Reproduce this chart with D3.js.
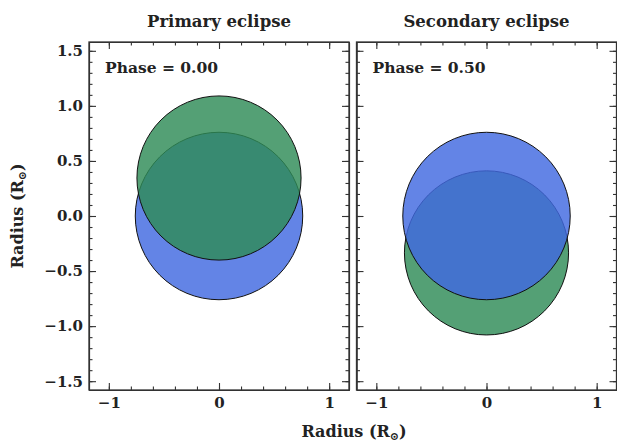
<!DOCTYPE html>
<html lang="en">
<head>
<meta charset="utf-8">
<title>Eclipse geometry</title>
<script src="https://cdn.jsdelivr.net/npm/d3@7"></script>
<style>
  body { margin: 0; background: #fff; }
  text { font-family: "DejaVu Serif", serif; font-weight: bold; fill: #222; }
  .axis path, .axis line { stroke: #333; stroke-width: 1.1; }
  .axis text { font-size: 15px; font-family: "DejaVu Serif", serif; font-weight: bold; fill: #222; }
</style>
</head>
<body>
<script>
// panels and values
var titles = ["Primary eclipse", "Secondary eclipse"];
var phases = [0.00, 0.50];
var blueY = [0, 0];           // primary star centre (R_sun)
var greenY = [0.345, -0.335]; // secondary star centre (R_sun)
var blueR = [0.76, 0.76];
var greenR = [0.745, 0.745];
var xTicks = [-1, 0, 1];
var yTicks = [-1.5, -1.0, -0.5, 0.0, 0.5, 1.0, 1.5];
var xDomain = [-1.18, 1.18];
var yDomain = [-1.58, 1.58];

var w = 617, h = 444;
var panelLeft = [89, 356.5];
var panelW = 260;
var plotTop = 42, plotBottom = 390;

var svg = d3.select("body").append("svg")
  .attr("width", w).attr("height", h);

var yScale = d3.scaleLinear().domain(yDomain).range([plotBottom, plotTop]);

function minorRange(a, b, step) {
  var out = [];
  for (var v = Math.ceil(a / step); v * step <= b; v++) out.push(+(v * step).toFixed(3));
  return out;
}
var xMinor = minorRange(xDomain[0], xDomain[1], 0.2);
var yMinor = minorRange(yDomain[0], yDomain[1], 0.1);

titles.forEach(function(title, i) {
  var x0 = panelLeft[i];
  var xScale = d3.scaleLinear().domain(xDomain).range([x0, x0 + panelW]);
  var g = svg.append("g");

  g.append("defs").append("clipPath").attr("id", "clip" + i)
    .append("rect").attr("x", x0).attr("y", plotTop).attr("width", panelW).attr("height", plotBottom - plotTop);

  var stars = [
    {y: blueY[i], r: blueR[i], c: "#4169e1"},
    {y: greenY[i], r: greenR[i], c: "#2e8b57"}
  ];
  // primary eclipse: green in front; secondary: blue in front
  if (i === 1) stars.reverse();

  g.append("g").attr("clip-path", "url(#clip" + i + ")")
    .selectAll("circle")
    .data(stars)
    .enter()
    .append("circle")
    .attr("cx", xScale(0))
    .attr("cy", function(d) { return yScale(d.y); })
    .attr("r", function(d) { return xScale(d.r) - xScale(0); })
    .attr("fill", function(d) { return d.c; })
    .attr("fill-opacity", 0.82)
    .attr("stroke", "#111")
    .attr("stroke-width", 1);

  // major axes, ticks pointing in
  g.append("g").attr("class", "axis")
    .attr("transform", "translate(0," + plotBottom + ")")
    .call(d3.axisBottom(xScale).tickValues(xTicks).tickFormat(d3.format("d"))
      .tickSizeInner(-7).tickSizeOuter(0).tickPadding(7));
  g.append("g").attr("class", "axis")
    .attr("transform", "translate(0," + plotTop + ")")
    .call(d3.axisTop(xScale).tickValues(xTicks).tickFormat("")
      .tickSizeInner(-7).tickSizeOuter(0));
  g.append("g").attr("class", "axis")
    .attr("transform", "translate(" + x0 + ",0)")
    .call(d3.axisLeft(yScale).tickValues(yTicks)
      .tickFormat(i === 0 ? d3.format(".1f") : "")
      .tickSizeInner(-7).tickSizeOuter(0).tickPadding(6));
  g.append("g").attr("class", "axis")
    .attr("transform", "translate(" + (x0 + panelW) + ",0)")
    .call(d3.axisRight(yScale).tickValues(yTicks).tickFormat("")
      .tickSizeInner(-7).tickSizeOuter(0));

  // minor ticks
  [["bottom", plotBottom], ["top", plotTop]].forEach(function(s) {
    var ax = s[0] === "bottom" ? d3.axisBottom(xScale) : d3.axisTop(xScale);
    g.append("g").attr("class", "axis")
      .attr("transform", "translate(0," + s[1] + ")")
      .call(ax.tickValues(xMinor).tickFormat("").tickSizeInner(-3.5).tickSizeOuter(0));
  });
  [["left", x0], ["right", x0 + panelW]].forEach(function(s) {
    var ax = s[0] === "left" ? d3.axisLeft(yScale) : d3.axisRight(yScale);
    g.append("g").attr("class", "axis")
      .attr("transform", "translate(" + s[1] + ",0)")
      .call(ax.tickValues(yMinor).tickFormat("").tickSizeInner(-3.5).tickSizeOuter(0));
  });

  g.append("rect")
    .attr("x", x0).attr("y", plotTop).attr("width", panelW).attr("height", plotBottom - plotTop)
    .attr("fill", "none").attr("stroke", "#333").attr("stroke-width", 1.3);

  g.append("text")
    .attr("x", x0 + panelW / 2).attr("y", 27)
    .attr("text-anchor", "middle")
    .attr("font-size", "16.5px")
    .text(title);

  g.append("text")
    .attr("x", x0 + 16).attr("y", 73)
    .attr("font-size", "15.5px")
    .text("Phase = " + d3.format(".2f")(phases[i]));
});

// axis labels
var xl = svg.append("text")
  .attr("x", 354).attr("y", 437)
  .attr("text-anchor", "middle")
  .attr("font-size", "16px");
xl.append("tspan").text("Radius (R");
xl.append("tspan").attr("font-size", "11px").attr("dy", 3).text("\u2299");
xl.append("tspan").attr("dy", -3).text(")");

var yl = svg.append("text")
  .attr("transform", "translate(23,216) rotate(-90)")
  .attr("text-anchor", "middle")
  .attr("font-size", "16px");
yl.append("tspan").text("Radius (R");
yl.append("tspan").attr("font-size", "11px").attr("dy", 3).text("\u2299");
yl.append("tspan").attr("dy", -3).text(")");
</script>
</body>
</html>
